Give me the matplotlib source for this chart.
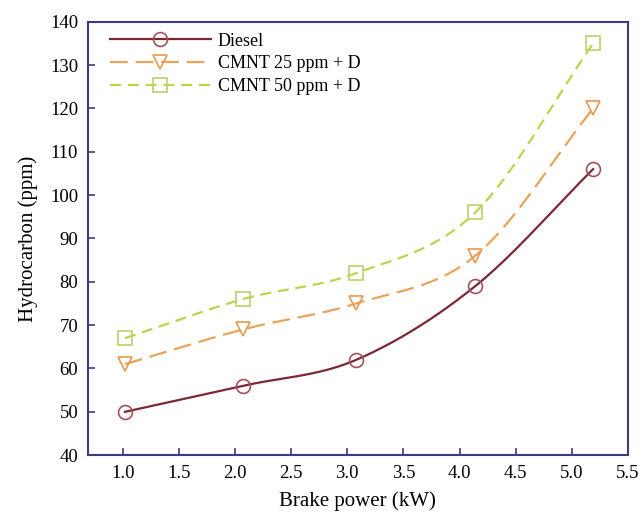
import numpy as np
import matplotlib
matplotlib.use("Agg")
import matplotlib.pyplot as plt

plt.rcParams['font.family'] = ['Liberation Serif', 'DejaVu Serif']

# data
power = [1.02, 2.07, 3.08, 4.14, 5.19]
diesel = [50, 56, 62, 79, 106]
cmnt25 = [61, 69, 75, 86, 120]
cmnt50 = [67, 76, 82, 96, 135]
xticks = [1.0, 1.5, 2.0, 2.5, 3.0, 3.5, 4.0, 4.5, 5.0, 5.5]
yticks = [40, 50, 60, 70, 80, 90, 100, 110, 120, 130, 140]

navy = '#3b3b82'


def smooth(x, y, n=40):
    # catmull-rom through the points, like a "smoothed line" chart
    x = np.asarray(x, float)
    y = np.asarray(y, float)
    px = np.concatenate([[2 * x[0] - x[1]], x, [2 * x[-1] - x[-2]]])
    py = np.concatenate([[2 * y[0] - y[1]], y, [2 * y[-1] - y[-2]]])
    xs, ys = [], []
    t = np.linspace(0, 1, n)
    for i in range(1, len(px) - 2):
        for p, out in ((px, xs), (py, ys)):
            p0, p1, p2, p3 = p[i - 1], p[i], p[i + 1], p[i + 2]
            out.append(0.5 * (2 * p1 + (-p0 + p2) * t
                              + (2 * p0 - 5 * p1 + 4 * p2 - p3) * t ** 2
                              + (-p0 + 3 * p1 - 3 * p2 + p3) * t ** 3))
    return np.concatenate(xs), np.concatenate(ys)


fig = plt.figure(figsize=(6.42, 5.19), dpi=100)
ax = fig.add_axes([0.137, 0.123, 0.841, 0.835])

series = [
    ("Diesel", diesel, '#7b2834', '#a0525c', 'o', '-', None),
    ("CMNT 25 ppm + D", cmnt25, '#eba35a', '#e59a4e', 'v', '--', (8, 3.5)),
    ("CMNT 50 ppm + D", cmnt50, '#bcd44c', '#b5d46a', 's', '--', (5, 3)),
]
for label, vals, lc, mc, mk, ls, dash in series:
    sx, sy = smooth(power, vals)
    line, = ax.plot(sx, sy, color=lc, lw=1.6, ls=ls)
    if dash:
        line.set_dashes(dash)
    ax.plot(power, vals, ls='none', marker=mk, ms=10, mfc='none', mec=mc, mew=1.2)
    # legend proxy
    h, = ax.plot([], [], color=lc, lw=1.6, ls=ls, marker=mk, ms=10,
                 mfc='none', mec=mc, mew=1.2, label=label)
    if dash:
        h.set_dashes(dash)

ax.set_xlim(0.69, 5.5)
ax.set_ylim(40, 140)
ax.set_xticks(xticks)
ax.set_yticks(yticks)
ax.set_xticklabels([f"{v:.1f}" for v in xticks])
ax.tick_params(direction='in', length=5, width=1.2, color=navy, labelsize=13.5,
               top=False, right=False, pad=7)
for s in ax.spines.values():
    s.set_color(navy)
    s.set_linewidth(1.5)

ax.set_xlabel("Brake power (kW)", fontsize=15, labelpad=7)
ax.set_ylabel("Hydrocarbon (ppm)", fontsize=15, labelpad=9)

ax.legend(loc='upper left', frameon=False, fontsize=13, handlelength=5.6,
          handletextpad=0.4, labelspacing=0.32, borderaxespad=0.2,
          bbox_to_anchor=(0.02, 1.0))

fig.savefig("out.png", dpi=100)
